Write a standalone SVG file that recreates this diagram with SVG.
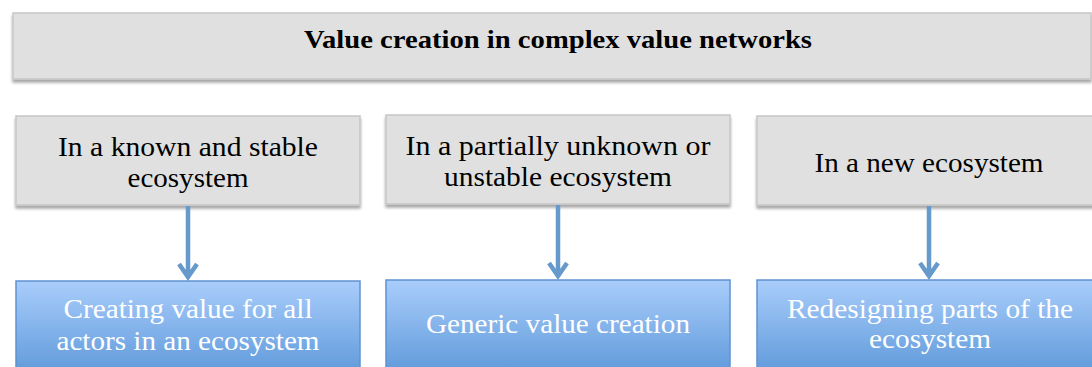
<svg xmlns="http://www.w3.org/2000/svg" width="1092" height="367" viewBox="0 0 1092 367">
<defs>
<filter id="sh" x="-5%" y="-10%" width="110%" height="130%">
<feGaussianBlur in="SourceAlpha" stdDeviation="1.5"/>
<feOffset dx="0" dy="2.5" result="b"/>
<feComponentTransfer><feFuncA type="linear" slope="0.35"/></feComponentTransfer>
<feMerge><feMergeNode/><feMergeNode in="SourceGraphic"/></feMerge>
</filter>
<linearGradient id="bl" x1="0" y1="0" x2="0" y2="1">
<stop offset="0" stop-color="#a9cdfb"/>
<stop offset="1" stop-color="#5a96d8"/>
</linearGradient>
</defs>
<style>
.g{fill:#e0e0e0;stroke:#c6c6c6;stroke-width:1.5}
.b{fill:url(#bl);stroke:#5f93cf;stroke-width:1.5}
.t{font-family:"Liberation Serif","Times New Roman",serif;font-size:28px;fill:#000;text-anchor:middle}
.w{fill:#fff}
.h{font-weight:bold;font-size:26px}
.a{fill:none;stroke:#6699cc;stroke-width:4.5}
</style>
<rect width="1092" height="367" fill="#fff"/>
<g id="title">
<rect class="g" x="13" y="13" width="1078" height="66" filter="url(#sh)"/>
<text class="t h" x="558" y="48" textLength="508" lengthAdjust="spacingAndGlyphs">Value creation in complex value networks</text>
</g>
<g id="n1">
<rect class="g" x="16" y="116" width="344" height="89" filter="url(#sh)"/>
<text class="t" x="188" y="156" textLength="260" lengthAdjust="spacingAndGlyphs">In a known and stable</text>
<text class="t" x="188" y="187" textLength="121" lengthAdjust="spacingAndGlyphs">ecosystem</text>
</g>
<g id="n2">
<rect class="g" x="386" y="115" width="344" height="89" filter="url(#sh)"/>
<text class="t" x="558" y="155" textLength="305" lengthAdjust="spacingAndGlyphs">In a partially unknown or</text>
<text class="t" x="558" y="186" textLength="228" lengthAdjust="spacingAndGlyphs">unstable ecosystem</text>
</g>
<g id="n3">
<rect class="g" x="757" y="116" width="345" height="89" filter="url(#sh)"/>
<text class="t" x="929" y="172" textLength="229" lengthAdjust="spacingAndGlyphs">In a new ecosystem</text>
</g>
<g id="n4">
<rect class="b" x="16" y="281" width="344" height="100"/>
<text class="t w" x="188" y="318" textLength="249" lengthAdjust="spacingAndGlyphs">Creating value for all</text>
<text class="t w" x="188" y="350" textLength="263" lengthAdjust="spacingAndGlyphs">actors in an ecosystem</text>
</g>
<g id="n5">
<rect class="b" x="386" y="280" width="344" height="100"/>
<text class="t w" x="558" y="333" textLength="264" lengthAdjust="spacingAndGlyphs">Generic value creation</text>
</g>
<g id="n6">
<rect class="b" x="757" y="280" width="345" height="100"/>
<text class="t w" x="930" y="318" textLength="286" lengthAdjust="spacingAndGlyphs">Redesigning parts of the</text>
<text class="t w" x="930" y="348" textLength="122" lengthAdjust="spacingAndGlyphs">ecosystem</text>
</g>
<g id="connectors">
<path class="a" d="M188 206V277M179 264L188 277L197 264"/>
<path class="a" d="M558 205V276M549 263L558 276L567 263"/>
<path class="a" d="M929 206V276M920 263L929 276L938 263"/>
</g>
</svg>
